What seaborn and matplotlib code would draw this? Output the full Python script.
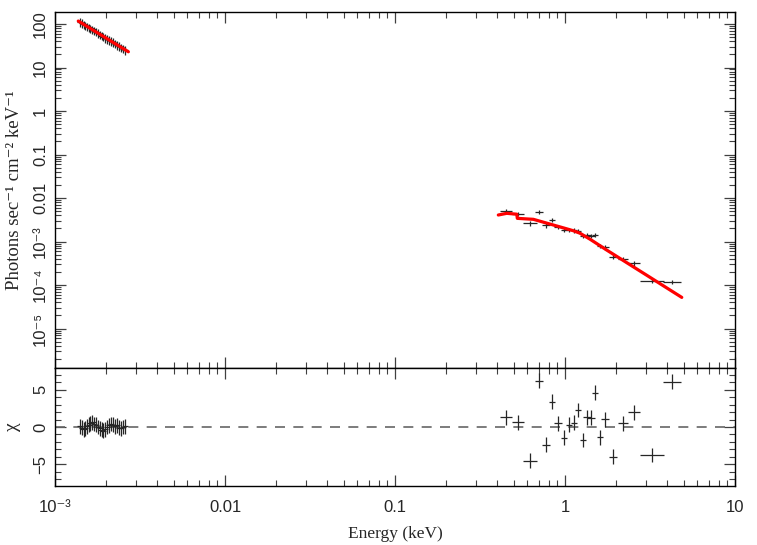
import numpy as np
import pandas as pd
import matplotlib
matplotlib.use("Agg")
import matplotlib.pyplot as plt
import seaborn as sns
from matplotlib.ticker import LogLocator, MultipleLocator, NullFormatter

# low energy group (keV, photons/s/cm2/keV)
lo_energy = [1.399e-3, 1.435e-3, 1.471e-3, 1.507e-3, 1.543e-3, 1.580e-3, 1.616e-3, 1.661e-3,
             1.697e-3, 1.742e-3, 1.787e-3, 1.832e-3, 1.877e-3, 1.923e-3, 1.977e-3, 2.031e-3,
             2.085e-3, 2.139e-3, 2.193e-3, 2.257e-3, 2.320e-3, 2.383e-3, 2.446e-3, 2.518e-3, 2.590e-3]
lo_flux = [111.5, 104.4, 98.0, 92.6, 88.1, 83.6, 79.6, 74.8, 70.8, 66.3, 61.8, 58.0, 54.4, 51.3,
           48.1, 45.5, 42.9, 40.6, 38.1, 35.4, 33.2, 30.9, 29.0, 27.1, 25.5]
lo_chi = [0.1, -0.1, -0.3, -0.2, 0.1, 0.3, 0.5, 0.6, 0.4, 0.3, 0.0, -0.2, -0.4, -0.5, -0.3,
          0.0, 0.2, 0.4, 0.3, 0.1, 0.2, -0.1, -0.2, 0.0, 0.1]
lo_bin_dex = [0.018] * 25
lo_model_energy = [1.37e-3, 2.0e-3, 2.7e-3]
lo_model_flux = [117.0, 47.2, 23.0]

# high energy group
hi_energy = [0.448, 0.527, 0.622, 0.703, 0.776, 0.842, 0.910, 0.982, 1.056, 1.125, 1.197,
             1.281, 1.353, 1.428, 1.507, 1.600, 1.726, 1.923, 2.193, 2.56, 3.25, 4.28]
hi_flux = [5.1e-3, 4.28e-3, 2.62e-3, 4.76e-3, 2.35e-3, 3.12e-3, 2.19e-3, 1.84e-3, 1.84e-3,
           1.80e-3, 1.77e-3, 1.34e-3, 1.41e-3, 1.36e-3, 1.41e-3, 7.9e-4, 7.36e-4, 4.48e-4,
           3.96e-4, 3.16e-4, 1.26e-4, 1.19e-4]
hi_chi = [1.3, 0.63, -4.55, 6.2, -2.4, 3.4, 0.5, -1.43, 0.27, 0.58, 2.27, -1.74, 1.3, 1.25,
          4.6, -1.38, 1.03, -3.97, 0.49, 1.97, -3.75, 6.06]
hi_bin_dex = [0.035, 0.035, 0.041, 0.023, 0.023, 0.018, 0.023, 0.018, 0.018, 0.018, 0.018,
              0.018, 0.023, 0.023, 0.018, 0.018, 0.023, 0.023, 0.029, 0.035, 0.07, 0.053]
hi_model_energy = [0.405, 0.454, 0.520, 0.524, 0.651, 0.816, 1.0, 1.119, 1.225, 1.403,
                   1.758, 2.41, 3.03, 3.79, 4.86]
hi_model_flux = [4.07e-3, 4.45e-3, 4.25e-3, 3.41e-3, 3.24e-3, 2.52e-3, 2.01e-3, 1.77e-3,
                 1.55e-3, 1.13e-3, 6.37e-4, 2.93e-4, 1.67e-4, 9.6e-5, 5.2e-5]

xticks = [1e-3, 0.01, 0.1, 1, 10]
xticklabels = ["10\u207b\u00b3", "0.01", "0.1", "1", "10"]
yticks = [100, 10, 1, 0.1, 0.01, 1e-3, 1e-4, 1e-5]
yticklabels = ["100", "10", "1", "0.1", "0.01", "10\u207b\u00b3", "10\u207b\u2074", "10\u207b\u2075"]

sns.set_style("ticks")
plt.rcParams['font.family'] = ['Liberation Sans', 'DejaVu Sans']
serif = ['Liberation Serif', 'DejaVu Serif']

fig = plt.figure(figsize=(7.57, 5.45), dpi=100)
ax = fig.add_axes([0.0727, 0.3248, 0.8983, 0.6523])
axr = fig.add_axes([0.0727, 0.1083, 0.8983, 0.2165], sharex=ax)

ebar = dict(fmt='none', ecolor='0.15', elinewidth=0.9, capsize=0, zorder=2)


def xerr_from(energy, dex):
    e = np.array(energy)
    d = np.array(dex)
    return [e * (1 - 10 ** -d), e * (10 ** d - 1)]


lo_x = xerr_from(lo_energy, lo_bin_dex)
hi_x = xerr_from(hi_energy, hi_bin_dex)

# top panel: unfolded spectrum
ax.errorbar(lo_energy, lo_flux, xerr=lo_x, yerr=np.array(lo_flux) * 0.22, **ebar)
ax.errorbar(hi_energy, hi_flux, xerr=hi_x, yerr=np.array(hi_flux) * 0.12, **ebar)
lo_df = pd.DataFrame({'energy': lo_model_energy, 'flux': lo_model_flux})
hi_df = pd.DataFrame({'energy': hi_model_energy, 'flux': hi_model_flux})
sns.lineplot(data=lo_df, x='energy', y='flux', color='red', lw=2.3, sort=False,
             estimator=None, ax=ax, zorder=5)
sns.lineplot(data=hi_df, x='energy', y='flux', color='red', lw=2.3, sort=False,
             estimator=None, ax=ax, zorder=5)

ax.set_xscale('log')
ax.set_yscale('log')
ax.set_xlim(1e-3, 10)
ax.set_ylim(1.24e-6, 184)
ax.set_yticks(yticks)
ax.set_yticklabels(yticklabels, rotation=90, va='center')
ax.yaxis.set_minor_locator(LogLocator(base=10, subs=np.arange(2, 10), numticks=100))
ax.yaxis.set_minor_formatter(NullFormatter())
ax.set_xlabel('')
ax.set_ylabel('Photons sec\u207b\u00b9 cm\u207b\u00b2 keV\u207b\u00b9', family=serif,
              fontsize=13.5, labelpad=7)
ax.tick_params(axis='x', labelbottom=False)

# bottom panel: residuals
axr.axhline(0, color='0.4', lw=1.2, ls=(0, (6, 5)), zorder=1)
axr.errorbar(lo_energy, lo_chi, xerr=lo_x, yerr=1.0, **ebar)
axr.errorbar(hi_energy, hi_chi, xerr=hi_x, yerr=1.0, **ebar)
axr.set_ylim(-7.9, 7.9)
axr.yaxis.set_major_locator(MultipleLocator(5))
axr.yaxis.set_minor_locator(MultipleLocator(1))
axr.set_xticks(xticks)
axr.set_xticklabels(xticklabels)
axr.xaxis.set_minor_locator(LogLocator(base=10, subs=np.arange(2, 10), numticks=100))
axr.xaxis.set_minor_formatter(NullFormatter())
for lab in axr.get_yticklabels():
    lab.set_rotation(90)
    lab.set_va('center')
axr.set_xlabel('Energy (keV)', family=serif, fontsize=12.5, labelpad=8)
axr.set_ylabel('\u03c7', family=serif, fontsize=14, labelpad=9)

for a in (ax, axr):
    for s in a.spines.values():
        s.set_linewidth(1.0)
        s.set_color('black')
    a.tick_params(which='both', direction='in', top=True, right=True, color='0.25',
                  labelsize=12)
    a.tick_params(which='major', length=8, width=0.9)
    a.tick_params(which='minor', length=4, width=0.8)
    a.tick_params(axis='y', pad=5)
    a.tick_params(axis='x', pad=10)

fig.savefig('out.png', dpi=100)
